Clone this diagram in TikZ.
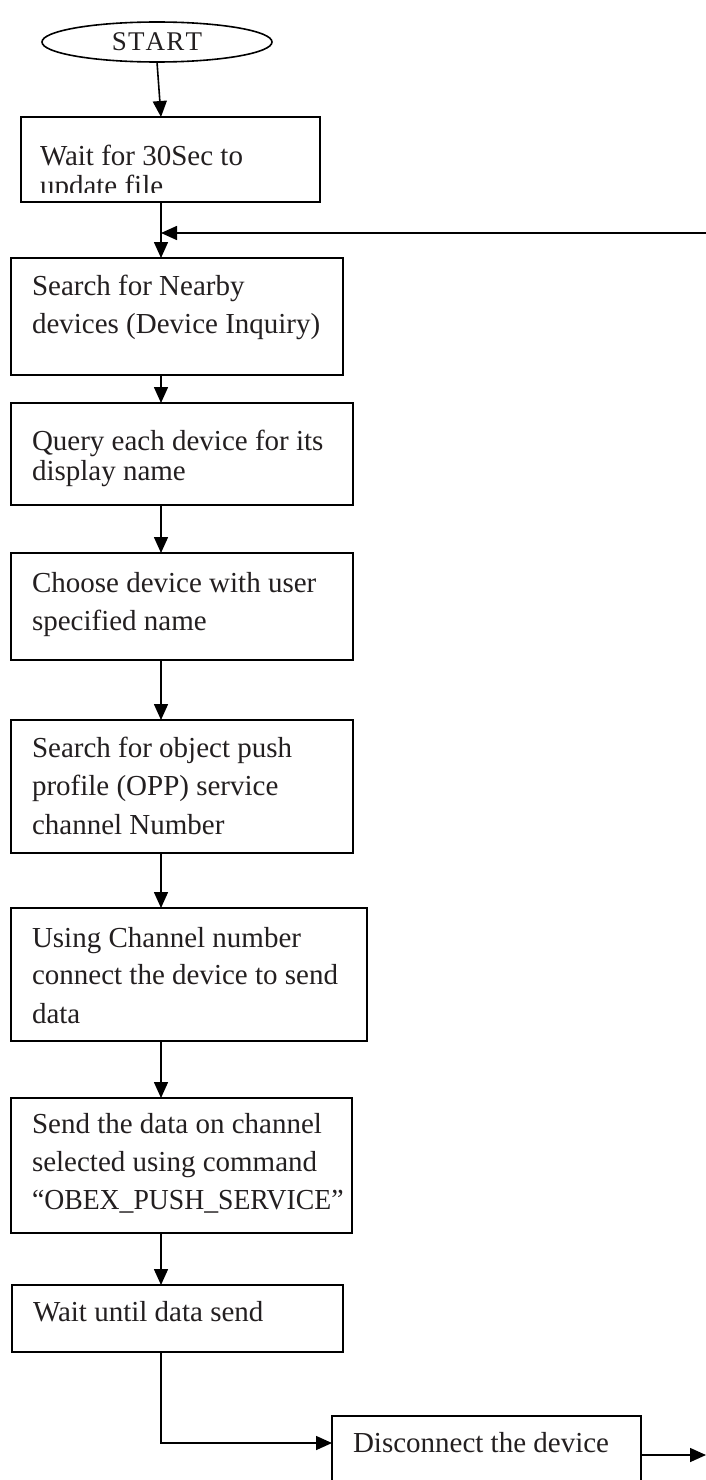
\documentclass[tikz,border=0pt]{standalone}
\usepackage{fontspec}
\setmainfont{Liberation Serif}
\usetikzlibrary{arrows.meta,shapes.geometric,calc}
\definecolor{ink}{RGB}{35,31,32}
\begin{document}
\begin{tikzpicture}[x=1pt,y=-1pt,
  box/.style={draw=black,line width=1.6pt,inner sep=0pt,outer sep=0pt,anchor=north west},
  txt/.style={anchor=base west,inner sep=0pt,outer sep=0pt,text=ink,font=\fontsize{29}{35}\selectfont},
  arr/.style={draw=black,line width=1.6pt,-{Triangle[width=14pt,length=16pt]}},
  ln/.style={draw=black,line width=1.6pt}]
\useasboundingbox (0,0) rectangle (706,1480);
\fill[white] (0,0) rectangle (706,1480);
% axis for connectors
\coordinate (cx) at (161,0);
% start
\node[draw=black,ellipse,line width=1.6pt,inner sep=0pt,outer sep=0pt,minimum width=230pt,minimum height=40pt,text=ink,font=\fontsize{27}{27}\selectfont] (e) at (157,42) {S\kern1.2pt T\kern1.2pt A\kern1.2pt R\kern1.2pt T};
% boxes
\node[box,minimum width=299pt,minimum height=85pt] (b1) at (21,117) {};
\node[box,minimum width=332pt,minimum height=117pt] (b2) at (11,258) {};
\node[box,minimum width=342pt,minimum height=102pt] (b3) at (11,403) {};
\node[box,minimum width=342pt,minimum height=107pt] (b4) at (11,553) {};
\node[box,minimum width=342pt,minimum height=133pt] (b5) at (11,720) {};
\node[box,minimum width=356pt,minimum height=133pt] (b6) at (11,908) {};
\node[box,minimum width=341pt,minimum height=135pt] (b7) at (11,1098) {};
\node[box,minimum width=331pt,minimum height=67pt] (b8) at (12,1285) {};
\node[box,minimum width=309pt,minimum height=90pt] (b9) at (332,1416) {};
% texts
\node[txt] (t1a) at (40,165) {Wait for 30Sec to};
\begin{scope}
\clip (21,117) rectangle (320,192);
\node[txt] (t1b) at (40,195) {update file};
\end{scope}
\node[txt] (t2a) at (32,295) {Search for Nearby};
\node[txt] (t2b) at (32,333) {devices (Device Inquiry)};
\node[txt] (t3a) at (32,450) {Query each device for its};
\node[txt] (t3b) at (32,480) {display name};
\node[txt] (t4a) at (32,592) {Choose device with user};
\node[txt] (t4b) at (32,630) {specified name};
\node[txt] (t5a) at (32,757) {Search for object push};
\node[txt] (t5b) at (32,795) {profile (OPP) service};
\node[txt] (t5c) at (32,834) {channel Number};
\node[txt] (t6a) at (32,947) {Using Channel number};
\node[txt] (t6b) at (32,984) {connect the device to send};
\node[txt] (t6c) at (32,1023) {data};
\node[txt] (t7a) at (32,1133) {Send the data on channel};
\node[txt] (t7b) at (32,1171) {selected using command};
\node[txt] (t7c) at (32,1209) {\scalebox{0.955}[1]{“OBEX\_PUSH\_SERVICE”}};
\node[txt] (t8a) at (33,1321) {Wait until data send};
\node[txt] (t9a) at (353,1452) {Disconnect the device};
% connectors
\draw[arr] (e.south) -- (b1.north west -| cx);
\draw[arr] (b1.south west -| cx) -- (b2.north west -| cx);
\coordinate (loopin) at (706,233);
\draw[arr] (loopin) -- (loopin -| cx);
\draw[arr] (b2.south west -| cx) -- (b3.north west -| cx);
\draw[arr] (b3.south west -| cx) -- (b4.north west -| cx);
\draw[arr] (b4.south west -| cx) -- (b5.north west -| cx);
\draw[arr] (b5.south west -| cx) -- (b6.north west -| cx);
\draw[arr] (b6.south west -| cx) -- (b7.north west -| cx);
\draw[arr] (b7.south west -| cx) -- (b8.north west -| cx);
\coordinate (j) at (161,1443);
\draw[arr] (b8.south west -| cx) -- (j) -- (j -| b9.west);
\coordinate (exit) at (706,1455);
\draw[arr] (exit -| b9.east) -- (exit);
\end{tikzpicture}
\end{document}
